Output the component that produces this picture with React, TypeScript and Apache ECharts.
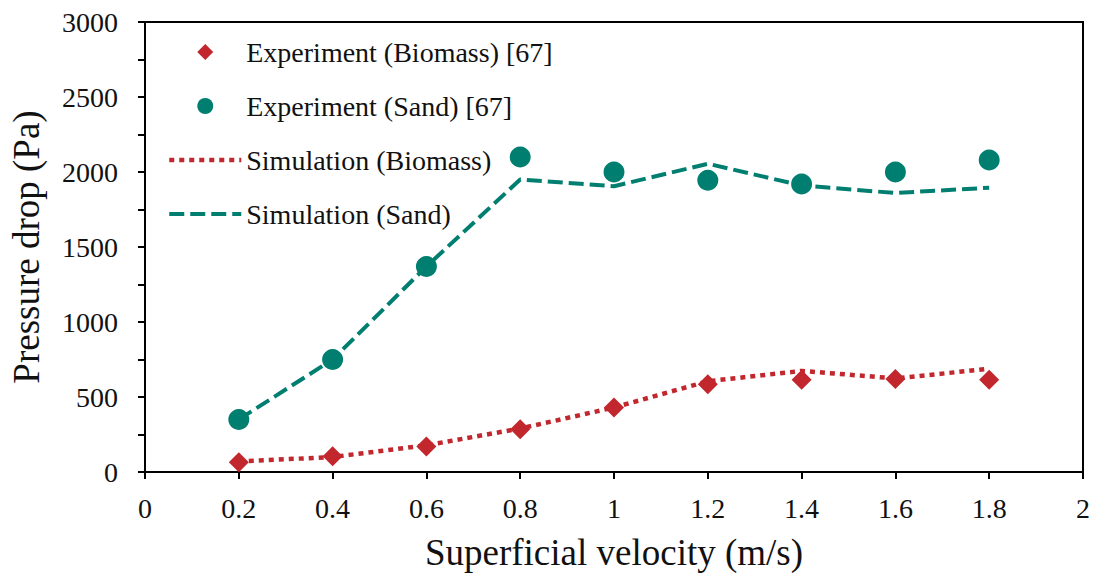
import React, { useEffect, useRef } from "react";
import * as echarts from "echarts";

// Superficial velocity (m/s)
const velocity = [0.2, 0.4, 0.6, 0.8, 1.0, 1.2, 1.4, 1.6, 1.8];
// Pressure drop (Pa)
const expBiomass = [65, 105, 170, 285, 430, 585, 615, 620, 615];
const expSand = [350, 750, 1370, 2100, 2000, 1945, 1920, 2000, 2080];
const simBiomass = [70, 100, 178, 290, 430, 605, 674, 624, 688];
const simSand = [350, 750, 1370, 1950, 1905, 2055, 1910, 1860, 1895];

const RED = "#C1272D";
const TEAL = "#007F70";
const INK = "#111";
const FONT = "Liberation Serif, Times New Roman, serif";
const DIAMOND = "path://M0,-10L10,0L0,10L-10,0Z";

const DOTTED = { color: RED, width: 4.5, type: [5, 5] };
const DASHED = { color: TEAL, width: 4, type: [15, 6] };

const pairs = (ys: number[]) => velocity.map((x, i) => [x, ys[i]]);

export default function App() {
  const ref = useRef<HTMLDivElement>(null);

  useEffect(() => {
    if (!ref.current) return;
    const chart = echarts.init(ref.current, undefined, { renderer: "svg" });
    chart.setOption({
      animation: false,
      backgroundColor: "#ffffff",
      textStyle: { fontFamily: FONT, color: INK },
      grid: {
        left: 144,
        right: 15,
        top: 22,
        bottom: 109,
        show: true,
        borderColor: "#000",
        borderWidth: 2,
      },
      legend: {
        data: [
          { name: "Experiment (Biomass) [67]", icon: DIAMOND },
          { name: "Experiment (Sand) [67]", icon: "circle" },
          // line-only keys: the marker glyph is hidden, the stroke stays
          { name: "Simulation (Biomass)", itemStyle: { opacity: 0 }, lineStyle: { ...DOTTED } },
          { name: "Simulation (Sand)", itemStyle: { opacity: 0 }, lineStyle: { ...DASHED } },
        ],
        orient: "vertical",
        left: 167,
        top: 38,
        padding: 0,
        itemWidth: 72,
        itemHeight: 16,
        itemGap: 26,
        symbolKeepAspect: true,
        textStyle: { fontFamily: FONT, fontSize: 28, color: INK },
        selectedMode: false,
      },
      xAxis: {
        type: "value",
        min: 0,
        max: 2,
        interval: 0.2,
        name: "Superficial velocity (m/s)",
        nameLocation: "middle",
        nameGap: 62,
        nameTextStyle: { fontFamily: FONT, fontSize: 37, color: INK },
        axisLine: { lineStyle: { color: "#000", width: 2 } },
        axisTick: { show: true, inside: false, length: 7, lineStyle: { color: "#000", width: 2 } },
        axisLabel: {
          fontFamily: FONT,
          fontSize: 28,
          color: INK,
          margin: 22,
          formatter: (v: number) => String(Math.round(v * 10) / 10),
        },
        splitLine: { show: false },
      },
      yAxis: {
        type: "value",
        min: 0,
        max: 3000,
        interval: 500,
        name: "Pressure drop (Pa)",
        nameLocation: "middle",
        nameGap: 100,
        nameTextStyle: { fontFamily: FONT, fontSize: 37, color: INK },
        axisLine: { lineStyle: { color: "#000", width: 2 } },
        axisTick: { show: true, inside: false, length: 7, lineStyle: { color: "#000", width: 2 } },
        minorTick: { show: true, splitNumber: 2, length: 7, lineStyle: { color: "#000", width: 2 } },
        axisLabel: {
          fontFamily: FONT,
          fontSize: 28,
          color: INK,
          margin: 27,
          formatter: (v: number) => String(v),
        },
        splitLine: { show: false },
        minorSplitLine: { show: false },
      },
      series: [
        {
          name: "Simulation (Biomass)",
          type: "line",
          data: pairs(simBiomass),
          symbol: "none",
          z: 2,
          lineStyle: { ...DOTTED },
          itemStyle: { color: RED },
        },
        {
          name: "Simulation (Sand)",
          type: "line",
          data: pairs(simSand),
          symbol: "none",
          z: 2,
          lineStyle: { ...DASHED },
          itemStyle: { color: TEAL },
        },
        {
          name: "Experiment (Biomass) [67]",
          type: "scatter",
          data: pairs(expBiomass),
          symbol: "diamond",
          symbolSize: 20,
          z: 3,
          itemStyle: { color: RED, opacity: 1 },
        },
        {
          name: "Experiment (Sand) [67]",
          type: "scatter",
          data: pairs(expSand),
          symbol: "circle",
          symbolSize: 21,
          z: 3,
          itemStyle: { color: TEAL, opacity: 1 },
        },
      ],
    });
    return () => chart.dispose();
  }, []);

  return (
    <div
      ref={ref}
      style={{ position: "absolute", left: 0, top: 0, width: 1098, height: 581 }}
    />
  );
}
